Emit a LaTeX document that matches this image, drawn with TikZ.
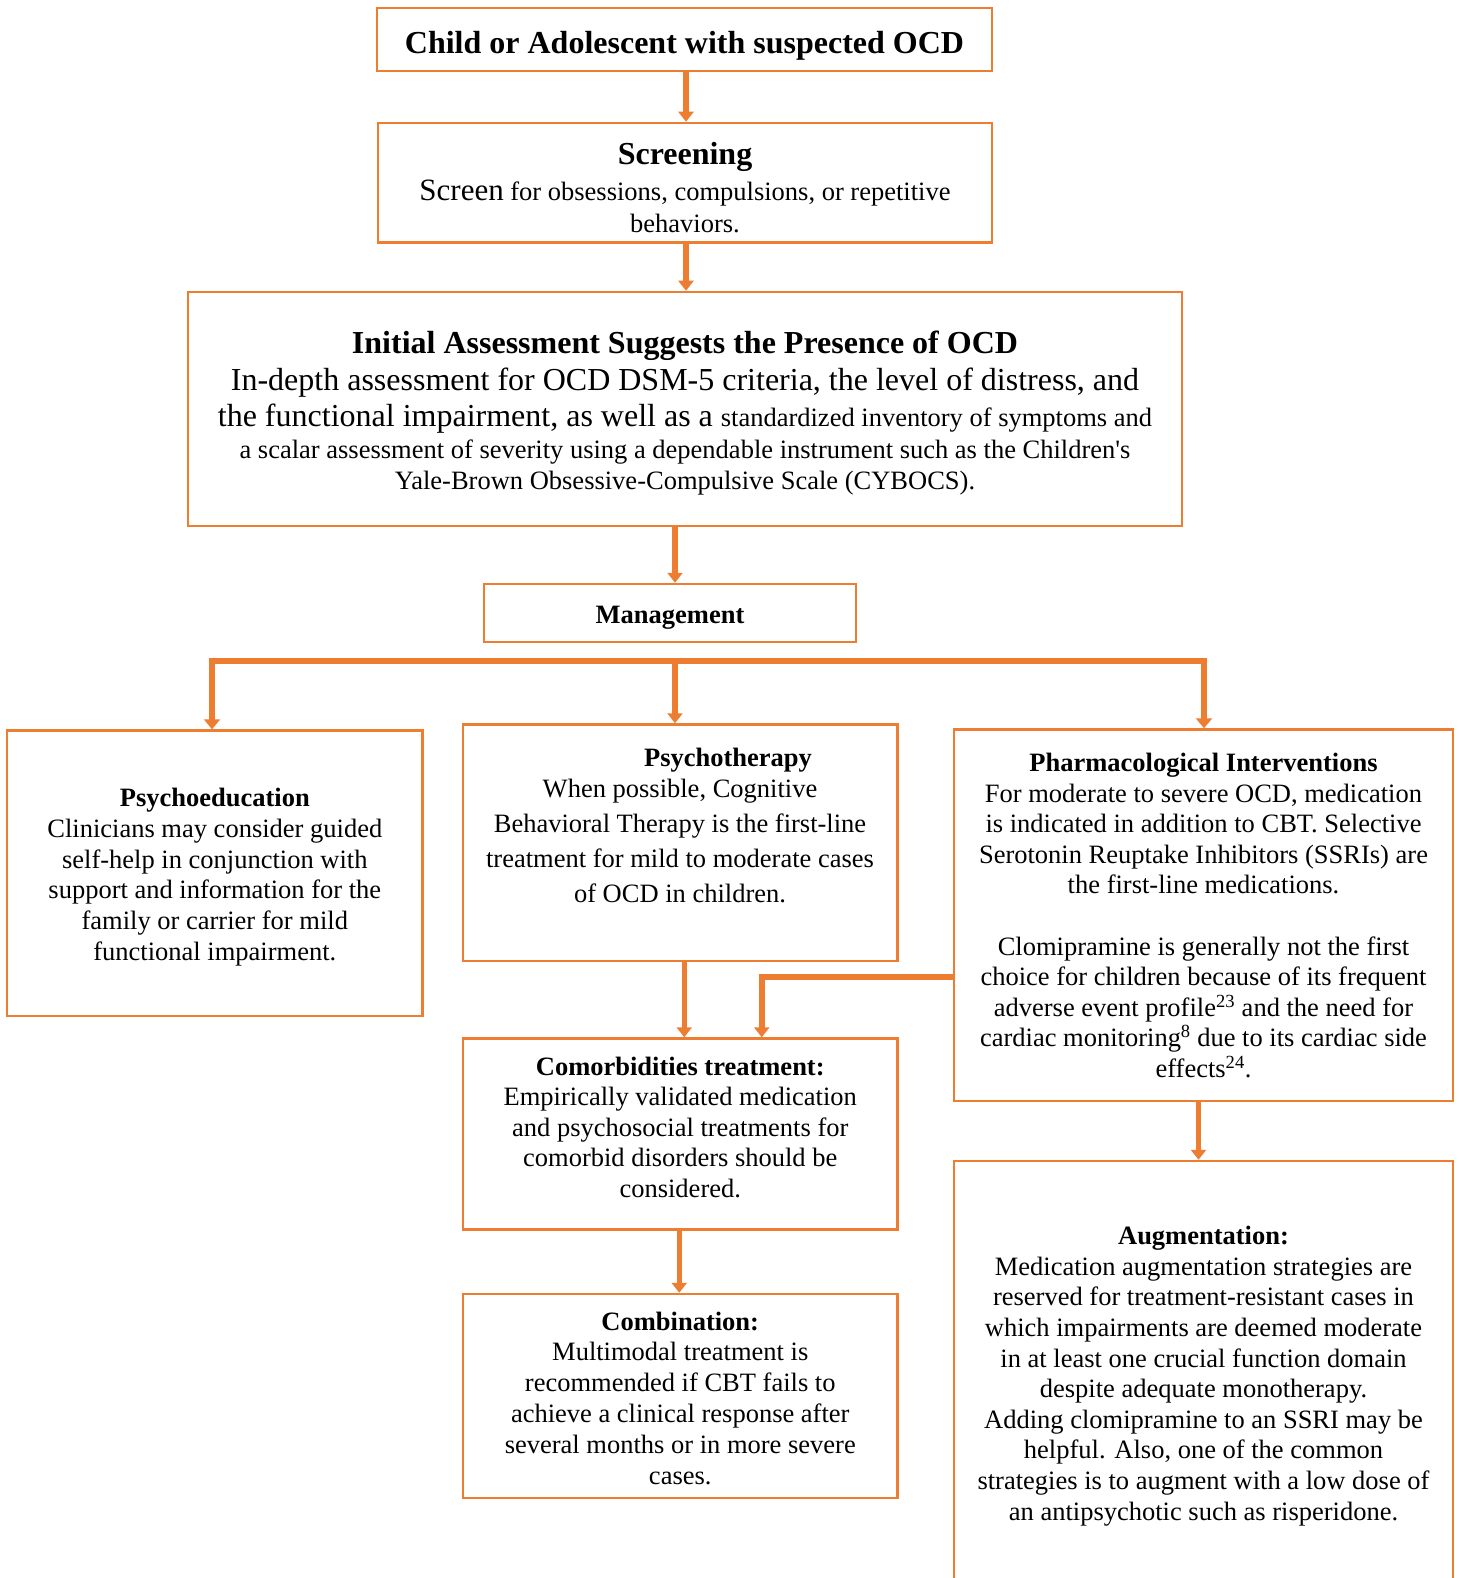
\documentclass[tikz,border=0pt]{standalone}
\usepackage{fontspec}
\setmainfont{Liberation Serif}
\usetikzlibrary{arrows.meta,calc}
\definecolor{ocd}{HTML}{ED7D31}
\begin{document}
\begin{tikzpicture}[x=1pt,y=-1pt,
  box/.style={draw=ocd, line width=2.5pt, rectangle, inner sep=0pt},
  txt/.style={inner sep=0pt, align=center, anchor=north},
  ln/.style={inner sep=0pt, anchor=base},
  body/.style={font={\fontsize{26.5}{#1}\selectfont}},
  big/.style={font={\fontsize{32}{36}\selectfont}},
  arr/.style={draw=ocd, line width=5.5pt, -{Triangle[width=15pt,length=10pt]}},
  barline/.style={draw=ocd, line width=6.5pt, {Triangle[width=16pt,length=10pt]}-{Triangle[width=16pt,length=10pt]}}]
\clip (0,0) rectangle (1458,1578);
% boxes
\node[box, minimum width=615pt, minimum height=63pt] (b1) at (684.5,39.5) {};
\node[box, minimum width=614pt, minimum height=119.5pt] (b2) at (685,182.75) {};
\node[box, minimum width=994pt, minimum height=234pt] (b3) at (685,409) {};
\node[box, minimum width=372pt, minimum height=58pt] (mg) at (670,613) {};
\node[box, minimum width=415.6pt, minimum height=285.5pt] (pe) at (214.8,873.25) {};
\node[box, minimum width=434.5pt, minimum height=236.5pt] (pt) at (680.25,842.75) {};
\node[box, minimum width=499pt, minimum height=371.5pt] (ph) at (1203.5,915.25) {};
\node[box, minimum width=434.5pt, minimum height=191pt] (co) at (680.25,1134) {};
\node[box, minimum width=434.5pt, minimum height=204pt] (cb) at (680.25,1396) {};
\node[box, minimum width=499pt, minimum height=439pt] (au) at (1203.5,1380.5) {};
% texts
\node[ln, big] (t1) at (684.5,53.5) {\bfseries Child or Adolescent with suspected OCD};
\node[ln, big] (t2a) at (685,165) {\bfseries Screening};
\node[ln, body=30] (t2b) at (685,201) {{\fontsize{31}{34}\selectfont Screen} for obsessions, compulsions, or repetitive};
\node[ln, body=30] (t2c) at (685,233) {behaviors.};
\node[ln, big] (t3a) at (685,353) {\bfseries Initial Assessment Suggests the Presence of OCD};
\node[ln, big] (t3b) at (685,390) {In-depth assessment for OCD DSM-5 criteria, the level of distress, and};
\node[ln, big] (t3c) at (685,426) {the functional impairment, as well as a {\fontsize{26.5}{30}\selectfont standardized inventory of symptoms and}};
\node[ln, body=30] (t3d) at (685,458.5) {a scalar assessment of severity using a dependable instrument such as the Children\textquotesingle s};
\node[ln, body=30] (t3e) at (685,489) {Yale-Brown Obsessive-Compulsive Scale (CYBOCS).};
\node[ln, body=30] (tmg) at (670,623) {\bfseries Management};
\node[txt, body=30.8] (tpe) at (214.8,788) {\textbf{Psychoeducation}\\Clinicians may consider guided\\self-help in conjunction with\\support and information for the\\family or carrier for mild\\functional impairment.};
\node[ln, body=30] (tpta) at (728,766) {\bfseries Psychotherapy};
\node[txt, body=35] (tptb) at (680,779) {When possible, Cognitive\\Behavioral Therapy is the first-line\\treatment for mild to moderate cases\\of OCD in children.};
\node[txt, body=30.6] (tph) at (1203.5,753) {\textbf{Pharmacological Interventions}\\For moderate to severe OCD, medication\\is indicated in addition to CBT. Selective\\Serotonin Reuptake Inhibitors (SSRIs) are\\the first-line medications.\\[30.6pt]Clomipramine is generally not the first\\choice for children because of its frequent\\adverse event profile\textsuperscript{23} and the need for\\cardiac monitoring\textsuperscript{8} due to its cardiac side\\effects\textsuperscript{24}.};
\node[txt, body=30.35] (tco) at (680.25,1057) {\textbf{Comorbidities treatment:}\\Empirically validated medication\\and psychosocial treatments for\\comorbid disorders should be\\considered.};
\node[txt, body=30.8] (tcb) at (680.25,1311.5) {\textbf{Combination:}\\Multimodal treatment is\\recommended if CBT fails to\\achieve a clinical response after\\several months or in more severe\\cases.};
\node[txt, body=30.6] (tau) at (1203.5,1226) {\textbf{Augmentation:}\\Medication augmentation strategies are\\reserved for treatment-resistant cases in\\which impairments are deemed moderate\\in at least one crucial function domain\\despite adequate monotherapy.\\Adding clomipramine to an SSRI may be\\helpful. Also, one of the common\\strategies is to augment with a low dose of\\an antipsychotic such as risperidone.};
% connectors
\draw[arr] ([xshift=1.5pt]b1.south) -- ([xshift=1.5pt]b1.south |- b2.north);
\draw[arr] ([xshift=1pt]b2.south) -- ([xshift=1pt]b2.south |- b3.north);
\draw[arr] ([xshift=5pt]mg.north |- b3.south) -- ([xshift=5pt]mg.north);
\coordinate (barL) at (212,661);
\coordinate (barM) at (675,661);
\coordinate (barR) at (1204,661);
\draw[barline] (barL |- pe.north) -- (barL) -- (barR) -- (barR |- ph.north);
\draw[arr, line width=6pt] (barM) -- (barM |- pt.north);
\draw[arr] ([xshift=4pt]pt.south) -- ([xshift=4pt]co.north);
\draw[arr, line width=6pt] ([yshift=-62pt]ph.west) -| ([xshift=81.5pt]co.north);
\draw[arr] ([xshift=-1pt]co.south) -- ([xshift=-1pt]cb.north);
\draw[arr] ([xshift=-5pt]ph.south) -- ([xshift=-5pt]au.north);
\end{tikzpicture}
\end{document}
